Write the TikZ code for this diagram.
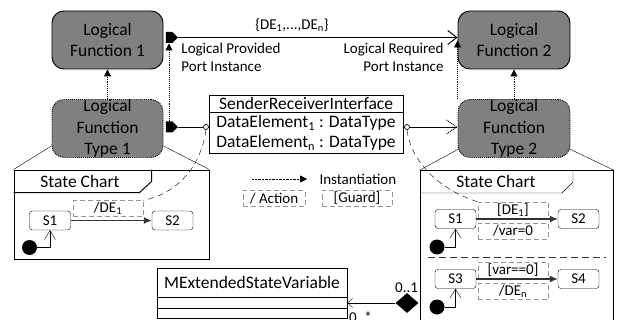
\documentclass[tikz,border=0pt]{standalone}
\usepackage{fontspec}
\setmainfont{Carlito}
\usetikzlibrary{arrows.meta,shapes.geometric,shapes.symbols}
\definecolor{funcgray}{RGB}{128,128,128}
\definecolor{actgray}{RGB}{150,150,150}
\pgfdeclarelayer{bg}
\pgfsetlayers{bg,main}
\begin{document}
\begin{tikzpicture}[x=1pt,y=-1pt,line width=0.95pt,
  fbig/.style={font=\fontsize{17.5}{21.5}\selectfont},
  fsmall/.style={font=\fontsize{15}{18}\selectfont},
  func/.style={draw, fill=funcgray, rounded corners=12pt, align=center, fbig, inner sep=0pt},
  ftype/.style={func, densely dotted},
  port/.style={signal, signal to=east, fill=black, draw=none, minimum width=12, minimum height=11, inner sep=0pt},
  lolly/.style={circle, draw, fill=white, minimum size=5, inner sep=0pt, line width=0.7pt},
  inst/.style={densely dotted, -{Triangle[length=7pt,width=7pt]}},
  state/.style={draw, rounded corners=3pt, minimum width=41, minimum height=19, inner sep=0pt, fsmall},
  act/.style={draw=actgray, dash pattern=on 5pt off 3pt, minimum width=70, minimum height=16, inner sep=0pt, fsmall},
  trans/.style={-{Latex[length=8pt,width=7pt]}, line width=1.3pt, draw=black!80},
  initial/.style={circle, fill=black, minimum size=15, inner sep=0pt},
  initarr/.style={-{Straight Barb[length=9pt,width=11pt]}},
  link/.style={dash pattern=on 6pt off 4pt}
]
\useasboundingbox (0,0) rectangle (617,320);

% logical functions and their types
\node[func, minimum width=111, minimum height=58] (LF1) at (107.5,40) {Logical\\Function 1};
\node[func, minimum width=112, minimum height=58] (LF2) at (514,40) {Logical\\Function 2};
\node[ftype, minimum width=111, minimum height=57] (LFT1) at (107.5,128.5) {Logical\\Function\\Type 1};
\node[ftype, minimum width=112, minimum height=58] (LFT2) at (514,128.5) {Logical\\Function\\Type 2};

% ports and the port connector
\node[port] (P1) at (169,37.5) {};
\node[port] (P2) at (169,127) {};
\coordinate (RQ) at (P1.east -| LF2.west);
\draw[-{Straight Barb[length=9pt,width=14pt]}] (P1.east) -- (RQ);
\node[fsmall] (des) at (292,25) {\{DE\textsubscript{1},...,DE\textsubscript{n}\}};
\node[fsmall, anchor=north west, align=left, inner sep=0pt] (lpp) at (181,43) {Logical Provided\\Port Instance};
\node[fsmall, anchor=north east, align=right, inner sep=0pt] (lrp) at (444,43) {Logical Required\\Port Instance};

% instantiation links
\draw[inst] (LFT1.north) -- (LF1.south);
\draw[inst] (P2.north) -- (P1.south);
\draw[inst] (LFT2.north) -- (LF2.south);
\draw[inst] (LFT2.north west) -- ([yshift=-3pt]RQ);

% interface
\node[draw, minimum width=194, minimum height=58, inner sep=0pt] (IF) at (306,124) {};
\node[fbig] (IFh) at (306,103.5) {SenderReceiverInterface};
\draw (209,112) -- (403,112);
\node[fbig] (IF1) at (306,123) {DataElement\textsubscript{1} : DataType};
\node[fbig] (IF2) at (306,143) {DataElement\textsubscript{n} : DataType};

% lollipop connectors
\node[lolly] (LC) at (206,127) {};
\node[lolly] (RC) at (407,127) {};
\draw (P2.east) -- (LC.west);
\coordinate (RT) at (RC -| LFT2.west);
\draw (RC.east) -- ([xshift=-1pt]RT);
\draw[densely dotted] ([xshift=-11pt,yshift=7pt]RT) -- ([xshift=-1pt]RT) -- ([xshift=-11pt,yshift=-7pt]RT);

% left state chart
\node[draw, minimum width=195, minimum height=89, inner sep=0pt] (CL) at (111.5,214.5) {};
\draw (CL.north west) ++(0,23) -- ++(126,0) -- ++(12,-11) -- ++(0,-12);
\node[fbig] (CLt) at (80,181.5) {State Chart};
\begin{pgfonlayer}{bg}
\draw (CL.north west) -- ([yshift=12pt]LFT1.south west);
\draw (CL.north east) -- ([yshift=12pt]LFT1.south east);
\end{pgfonlayer}
\node[state] (S1a) at (50,220.5) {S1};
\node[state] (S2a) at (172.5,220.5) {S2};
\node[act] (A1) at (108,208.5) {/DE\textsubscript{1}};
\draw[trans] (S1a) -- (S2a);
\node[initial] (I1) at (29.5,247.5) {};
\draw[initarr] (I1.east) -- (I1.east -| S1a.south) -- (S1a.south);
\draw[link] (LC.south) .. controls (200,172) and (172,195) .. (A1.north east);

% legend
\coordinate (L1) at (252,179);
\coordinate (L2) at (307,179);
\draw[inst] (L1) -- (L2);
\node[fsmall, anchor=west] (Lt) at (316,179) {Instantiation};
\node[act, minimum width=62] (La) at (274,198.5) {/ Action};
\node[act] (Lg) at (357,198.5) {[Guard]};

% right state chart
\node[minimum width=193, minimum height=170, inner sep=0pt, anchor=north west] (CR) at (420,170) {};
\draw (CR.south west) -- (CR.north west) -- (CR.north east) -- (CR.south east);
\draw (CR.north west) ++(0,23) -- ++(142,0) -- ++(11,-11) -- ++(0,-12);
\node[fbig] (CRt) at (496,181.5) {State Chart};
\begin{pgfonlayer}{bg}
\draw (CR.north west) -- ([xshift=3pt,yshift=10pt]LFT2.south west);
\draw (CR.north east) -- ([xshift=-3pt,yshift=10pt]LFT2.south east);
\end{pgfonlayer}
\node[state] (S1b) at (455.5,219) {S1};
\node[state] (S2b) at (578.5,219) {S2};
\node[act] (G1) at (513,210) {[DE\textsubscript{1}]};
\node[act] (A2) at (513,231) {/var=0};
\draw[trans] (S1b) -- (S2b);
\node[initial] (I2) at (437,247) {};
\draw[initarr] (I2.east) -- (I2.east -| S1b.south) -- (S1b.south);
\draw[dash pattern=on 7pt off 4pt, draw=black!80] (428,257) -- (606,257);
\node[state] (S3) at (455.5,279) {S3};
\node[state] (S4) at (578.5,279) {S4};
\node[act] (G2) at (513,270) {[var==0]};
\node[act] (A3) at (513,291.5) {/DE\textsubscript{n}};
\draw[trans] (S3) -- (S4);
\node[initial] (I3) at (437,307) {};
\draw[initarr] (I3.east) -- (I3.east -| S3.south) -- (S3.south);
\draw[link] (RC.south) .. controls (411,162) and (440,190) .. (G1.north west);

% extended state variable and composition
\node[draw, minimum width=190, minimum height=50, inner sep=0pt] (MSV) at (252,293) {};
\node[fbig] (MSVt) at (252,282) {MExtendedStateVariable};
\draw (157,297) -- (347,297);
\draw (157,308) -- (347,308);
\node[diamond, fill=black, minimum width=23, minimum height=20, inner sep=0pt] (D) at (407,303) {};
\draw[-{Straight Barb[length=5pt,width=9pt]}] (D.west) -- (D.west -| MSV.east);
\node[fsmall, anchor=base west, inner sep=0pt] (m1) at (395,292) {0..1};
\node[fsmall, anchor=base west, inner sep=0pt] (m2) at (349,322) {0..*};
\end{tikzpicture}
\end{document}
